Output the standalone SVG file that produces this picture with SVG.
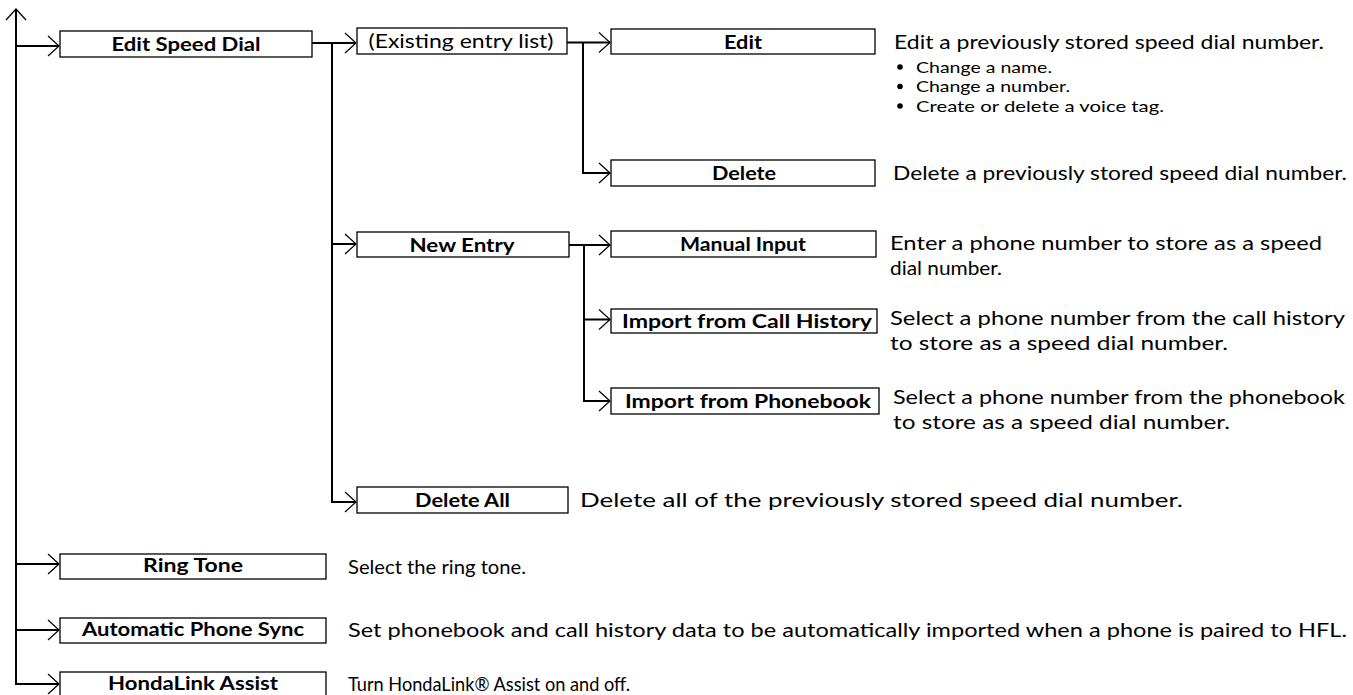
<svg xmlns="http://www.w3.org/2000/svg" width="1353" height="695" viewBox="0 0 1353 695">
<defs>
<marker id="ah" markerUnits="userSpaceOnUse" markerWidth="24" markerHeight="24" refX="12" refY="12" orient="auto-start-reverse" viewBox="0 0 24 24" overflow="visible">
<path d="M1,2 L12,12 L1,22" fill="none" stroke="#000" stroke-width="1.2"/>
</marker>
<style>
.ln{fill:none;stroke:#000;stroke-width:2;marker-end:url(#ah)}
.ln2{fill:none;stroke:#000;stroke-width:2;marker-start:url(#ah);marker-end:url(#ah)}
.box{fill:#fff;stroke:#000;stroke-width:1.3}
.lb{font-family:Lato,'Open Sans',sans-serif;font-weight:bold;font-size:19px;text-anchor:middle;fill:#000}
.lr{font-family:Lato,'Open Sans',sans-serif;font-weight:normal;font-size:19px;text-anchor:middle;fill:#000}
.ds{font-family:Lato,'Open Sans',sans-serif;font-size:20px;fill:#000}
.bl{font-family:Lato,'Open Sans',sans-serif;font-size:16px;fill:#000}
</style>
</defs>
<rect width="1353" height="695" fill="#fff"/>
<g id="connectors">
<path class="ln2" d="M16,9 V684 H59"/>
<path class="ln" d="M16,46 H59"/>
<path class="ln" d="M16,564 H59"/>
<path class="ln" d="M16,630 H59"/>
<path class="ln" d="M312,43 H356"/>
<path class="ln" d="M332,43 V502 H356"/>
<path class="ln" d="M332,244 H356"/>
<path class="ln" d="M567,42.5 H610"/>
<path class="ln" d="M583,42.5 V173 H610"/>
<path class="ln" d="M569,245 H610"/>
<path class="ln" d="M584,245 V401 H610"/>
<path class="ln" d="M584,319.5 H610"/>
</g>
<g id="edit-speed-dial">
<rect class="box" x="60" y="31" width="252" height="26"/>
<text class="lb" x="186" y="51" textLength="149" lengthAdjust="spacingAndGlyphs">Edit Speed Dial</text>
</g>
<g id="existing-entry-list">
<rect class="box" x="357" y="28" width="210" height="26"/>
<text class="lr" x="461" y="48" textLength="185" lengthAdjust="spacingAndGlyphs">(Existing entry list)</text>
</g>
<g id="edit">
<rect class="box" x="611" y="29" width="264" height="25"/>
<text class="lb" x="743" y="48.5" textLength="38" lengthAdjust="spacingAndGlyphs">Edit</text>
<text class="ds" x="894" y="49" textLength="430" lengthAdjust="spacingAndGlyphs">Edit a previously stored speed dial number.</text>
<circle cx="900" cy="67" r="2.8"/>
<text class="bl" x="916" y="72.5" textLength="136" lengthAdjust="spacingAndGlyphs">Change a name.</text>
<circle cx="900" cy="86.5" r="2.8"/>
<text class="bl" x="916" y="92" textLength="154" lengthAdjust="spacingAndGlyphs">Change a number.</text>
<circle cx="900" cy="106" r="2.8"/>
<text class="bl" x="916" y="111.5" textLength="248" lengthAdjust="spacingAndGlyphs">Create or delete a voice tag.</text>
</g>
<g id="delete">
<rect class="box" x="611" y="160" width="264" height="26"/>
<text class="lb" x="744" y="180" textLength="64" lengthAdjust="spacingAndGlyphs">Delete</text>
<text class="ds" x="893" y="180" textLength="454" lengthAdjust="spacingAndGlyphs">Delete a previously stored speed dial number.</text>
</g>
<g id="new-entry">
<rect class="box" x="357" y="232" width="212" height="25"/>
<text class="lb" x="462" y="251.5" textLength="105" lengthAdjust="spacingAndGlyphs">New Entry</text>
</g>
<g id="manual-input">
<rect class="box" x="611" y="231" width="265" height="26"/>
<text class="lb" x="743" y="251" textLength="126" lengthAdjust="spacingAndGlyphs">Manual Input</text>
<text class="ds" x="890" y="250" textLength="432" lengthAdjust="spacingAndGlyphs">Enter a phone number to store as a speed</text>
<text class="ds" x="890" y="275" textLength="112" lengthAdjust="spacingAndGlyphs">dial number.</text>
</g>
<g id="import-call-history">
<rect class="box" x="611" y="309" width="266" height="24"/>
<text class="lb" x="747" y="328" textLength="250" lengthAdjust="spacingAndGlyphs">Import from Call History</text>
<text class="ds" x="890" y="325" textLength="455" lengthAdjust="spacingAndGlyphs">Select a phone number from the call history</text>
<text class="ds" x="890" y="350" textLength="338" lengthAdjust="spacingAndGlyphs">to store as a speed dial number.</text>
</g>
<g id="import-phonebook">
<rect class="box" x="611" y="388" width="268" height="26"/>
<text class="lb" x="748" y="408" textLength="246" lengthAdjust="spacingAndGlyphs">Import from Phonebook</text>
<text class="ds" x="893" y="404" textLength="452" lengthAdjust="spacingAndGlyphs">Select a phone number from the phonebook</text>
<text class="ds" x="893" y="429" textLength="337" lengthAdjust="spacingAndGlyphs">to store as a speed dial number.</text>
</g>
<g id="delete-all">
<rect class="box" x="357" y="487" width="211" height="26"/>
<text class="lb" x="462.5" y="507" textLength="95" lengthAdjust="spacingAndGlyphs">Delete All</text>
<text class="ds" x="580" y="507" textLength="603" lengthAdjust="spacingAndGlyphs">Delete all of the previously stored speed dial number.</text>
</g>
<g id="ring-tone">
<rect class="box" x="60" y="554" width="266" height="25"/>
<text class="lb" x="193" y="571.5" textLength="100" lengthAdjust="spacingAndGlyphs">Ring Tone</text>
<text class="ds" x="348" y="574" textLength="178" lengthAdjust="spacingAndGlyphs">Select the ring tone.</text>
</g>
<g id="automatic-phone-sync">
<rect class="box" x="60" y="618" width="266" height="25"/>
<text class="lb" x="193" y="636" textLength="222" lengthAdjust="spacingAndGlyphs">Automatic Phone Sync</text>
<text class="ds" x="348" y="637" textLength="999" lengthAdjust="spacingAndGlyphs">Set phonebook and call history data to be automatically imported when a phone is paired to HFL.</text>
</g>
<g id="hondalink-assist">
<rect class="box" x="60" y="672" width="266" height="26"/>
<text class="lb" x="193" y="690" textLength="170" lengthAdjust="spacingAndGlyphs">HondaLink Assist</text>
<text class="ds" x="348" y="691" textLength="282" lengthAdjust="spacingAndGlyphs">Turn HondaLink® Assist on and off.</text>
</g>
</svg>
